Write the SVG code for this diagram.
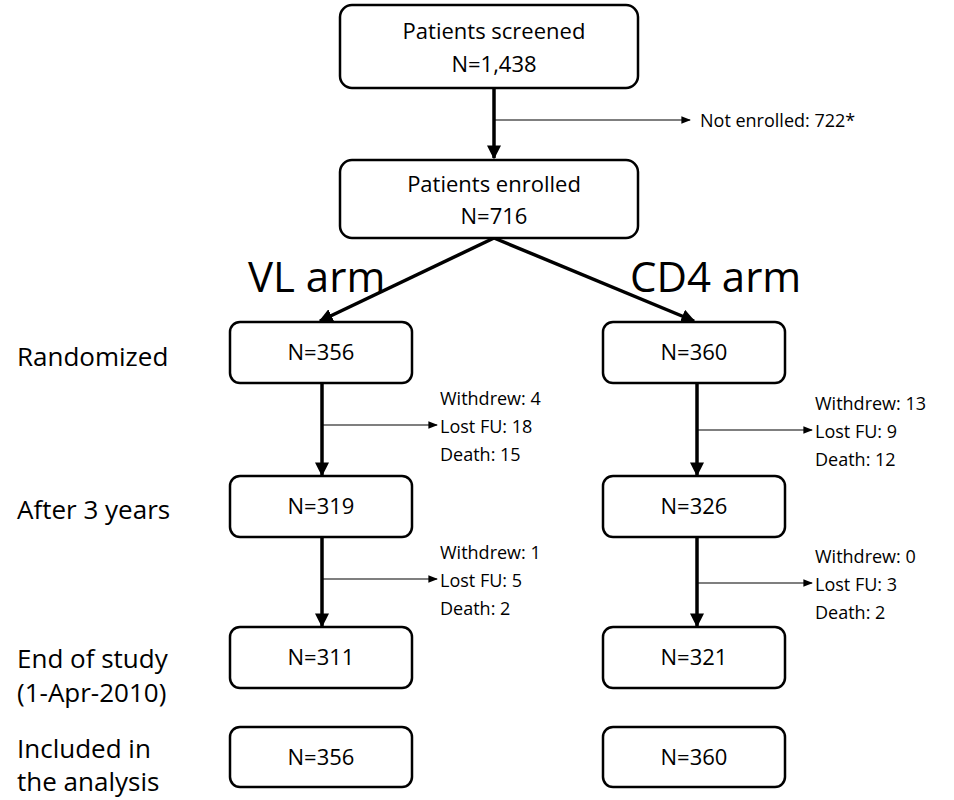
<svg xmlns="http://www.w3.org/2000/svg" width="954" height="800" viewBox="0 0 954 800">
<style>
.b{fill:#fff;stroke:#000;stroke-width:2.5}
text{font-family:"Open Sans","Liberation Sans",sans-serif;fill:#000}
.t{font-size:22px;text-anchor:middle}
.s{font-size:18px}
.l{font-size:26px}
.a{font-size:42px}
.th{stroke:#000;stroke-width:3.5;fill:none}
.tn{stroke:#000;stroke-width:1.2;fill:none}
</style>
<defs>
<marker id="m" viewBox="0 0 10 10" refX="9" refY="5" markerWidth="4" markerHeight="4" orient="auto"><path d="M0,0L10,5L0,10z"/></marker>
<marker id="n" viewBox="0 0 10 10" refX="9" refY="5" markerWidth="8" markerHeight="8" orient="auto"><path d="M0,1L10,5L0,9z"/></marker>
</defs>
<rect width="954" height="800" fill="#fff"/>
<g id="connectors">
<path class="th" d="M494,88V158" marker-end="url(#m)"/>
<path class="tn" d="M494,120H690" marker-end="url(#n)"/>
<path class="th" d="M494,238L320,321" marker-end="url(#m)"/>
<path class="th" d="M494,238L694,321" marker-end="url(#m)"/>
<path class="th" d="M322,383V475" marker-end="url(#m)"/>
<path class="tn" d="M322,425H437" marker-end="url(#n)"/>
<path class="th" d="M697,383V475" marker-end="url(#m)"/>
<path class="tn" d="M697,430H812" marker-end="url(#n)"/>
<path class="th" d="M322,537V626" marker-end="url(#m)"/>
<path class="tn" d="M322,579H437" marker-end="url(#n)"/>
<path class="th" d="M697,537V626" marker-end="url(#m)"/>
<path class="tn" d="M697,583H812" marker-end="url(#n)"/>
</g>
<g id="screened"><rect class="b" x="340" y="5" width="298" height="83" rx="12"/><text class="t" x="494" y="39">Patients screened</text><text class="t" x="494" y="72">N=1,438</text></g>
<g id="enrolled"><rect class="b" x="340" y="160" width="298" height="78" rx="12"/><text class="t" x="494" y="192">Patients enrolled</text><text class="t" x="494" y="224">N=716</text></g>
<g id="notenrolled"><text class="s" x="700" y="127">Not enrolled: 722*</text></g>
<g id="arms"><text class="a" x="248" y="292">VL arm</text><text class="a" x="630" y="292">CD4 arm</text></g>
<g id="labels">
<text class="l" x="17" y="366">Randomized</text>
<text class="l" x="17" y="519">After 3 years</text>
<text class="l" x="17" y="668">End of study</text>
<text class="l" x="17" y="702">(1-Apr-2010)</text>
<text class="l" x="17" y="758">Included in</text>
<text class="l" x="17" y="791">the analysis</text>
</g>
<g id="vl1"><rect class="b" x="230" y="322" width="182" height="61" rx="10"/><text class="t" x="321" y="360">N=356</text></g>
<g id="cd1"><rect class="b" x="603" y="322" width="182" height="61" rx="10"/><text class="t" x="694" y="360">N=360</text></g>
<g id="vl2"><rect class="b" x="230" y="476" width="182" height="61" rx="10"/><text class="t" x="321" y="514">N=319</text></g>
<g id="cd2"><rect class="b" x="603" y="476" width="182" height="61" rx="10"/><text class="t" x="694" y="514">N=326</text></g>
<g id="vl3"><rect class="b" x="230" y="627" width="182" height="61" rx="10"/><text class="t" x="321" y="665">N=311</text></g>
<g id="cd3"><rect class="b" x="603" y="627" width="182" height="61" rx="10"/><text class="t" x="694" y="665">N=321</text></g>
<g id="vl4"><rect class="b" x="230" y="727" width="182" height="60" rx="10"/><text class="t" x="321" y="765">N=356</text></g>
<g id="cd4"><rect class="b" x="603" y="727" width="182" height="60" rx="10"/><text class="t" x="694" y="765">N=360</text></g>
<g id="loss1"><text class="s" x="440" y="405">Withdrew: 4</text><text class="s" x="440" y="433">Lost FU: 18</text><text class="s" x="440" y="461">Death: 15</text></g>
<g id="loss2"><text class="s" x="815" y="410">Withdrew: 13</text><text class="s" x="815" y="438">Lost FU: 9</text><text class="s" x="815" y="466">Death: 12</text></g>
<g id="loss3"><text class="s" x="440" y="559">Withdrew: 1</text><text class="s" x="440" y="587">Lost FU: 5</text><text class="s" x="440" y="615">Death: 2</text></g>
<g id="loss4"><text class="s" x="815" y="563">Withdrew: 0</text><text class="s" x="815" y="591">Lost FU: 3</text><text class="s" x="815" y="619">Death: 2</text></g>
</svg>
